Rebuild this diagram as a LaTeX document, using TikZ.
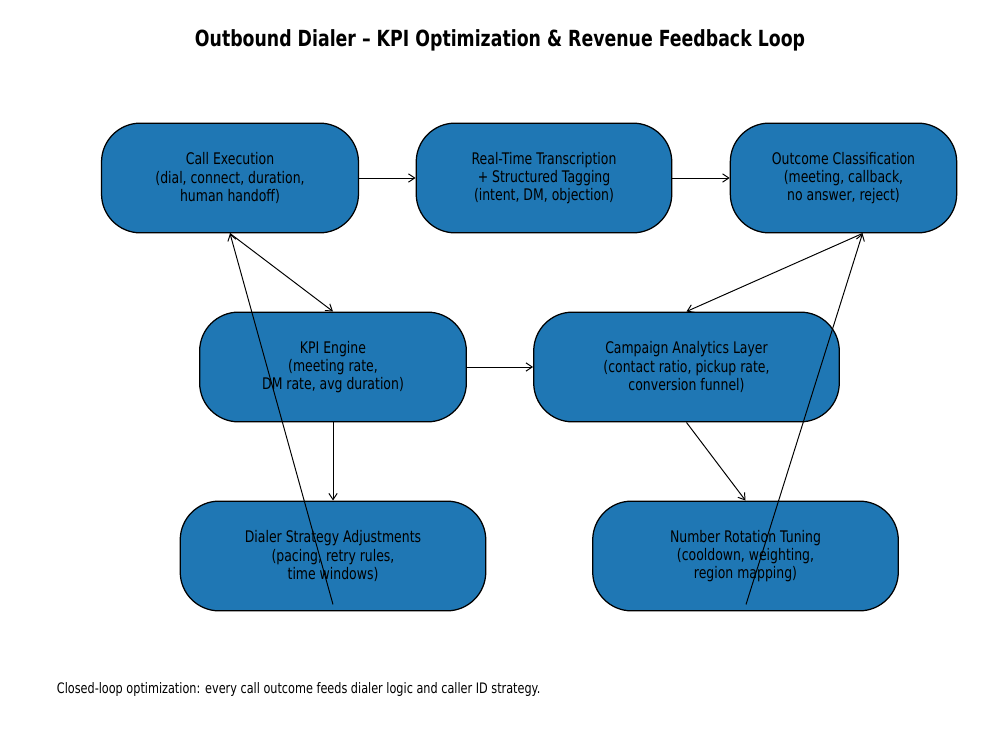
\documentclass[tikz,border=0pt]{standalone}
\usepackage{fontspec}
\setmainfont{DejaVu Sans}[FakeStretch=0.78]
\usepackage{tikz}
\usetikzlibrary{arrows.meta, positioning, calc}
\usepackage{xcolor}
\definecolor{mplblue}{HTML}{1F77B4}
\tikzset{
  stage/.style={rectangle, draw=black, fill=mplblue, line width=0.9pt,
    align=center, rounded corners=28pt, minimum height=79pt,
    font=\fontsize{11.5}{13}\selectfont, inner sep=2pt},
  arr/.style={-{Straight Barb[length=4.5pt,width=6pt]}, line width=0.7pt},
}

\begin{document}
\begin{tikzpicture}[x=0.72pt, y=0.72pt]
  \fill[white] (0,0) rectangle (1000,750);
  \useasboundingbox (0,0) rectangle (1000,750);

  \node[font=\fontsize{16}{18}\bfseries\selectfont] (title) at (500,710)
       {Outbound Dialer -- KPI Optimization \& Revenue Feedback Loop};

  % top row
  \node[stage, minimum width=185pt] (ce) at (230,572)
       {Call Execution\\(dial, connect, duration,\\human handoff)};
  \node[stage, minimum width=184pt] (tag) at (544,572)
       {Real-Time Transcription\\+ Structured Tagging\\(intent, DM, objection)};
  \node[stage, minimum width=163pt] (oc) at (843.5,572)
       {Outcome Classification\\(meeting, callback,\\no answer, reject)};

  % middle row
  \node[stage, minimum width=192pt] (kpi) at (333,383)
       {KPI Engine\\(meeting rate,\\DM rate, avg duration)};
  \node[stage, minimum width=220pt] (cal) at (686.5,383)
       {Campaign Analytics Layer\\(contact ratio, pickup rate,\\conversion funnel)};

  % bottom row
  \node[stage, minimum width=220pt] (dsa) at (333,194)
       {Dialer Strategy Adjustments\\(pacing, retry rules,\\time windows)};
  \node[stage, minimum width=220pt] (nrt) at (745.5,194)
       {Number Rotation Tuning\\(cooldown, weighting,\\region mapping)};

  \coordinate (ocport) at ($(oc.south)+(19,0)$);
  \coordinate (dsafb) at ($(dsa.south)+(0,7)$);
  \coordinate (nrtfb) at ($(nrt.south)+(0.5,7)$);

  \draw[arr] (ce)  -- (tag);
  \draw[arr] (tag) -- (oc);
  \draw[arr] (ce.south) -- (kpi.north);
  \draw[arr] (ocport)   -- (cal.north);
  \draw[arr] (kpi) -- (cal);
  \draw[arr] (kpi.south) -- (dsa.north);
  \draw[arr] (cal.south) -- (nrt.north);

  % feedback
  \draw[arr] (dsafb) -- (ce.south);
  \draw[arr] (nrtfb) -- (ocport);

  \node[anchor=west, font=\fontsize{10.4}{12}\selectfont] (note) at (52,60)
       {Closed-loop optimization: every call outcome feeds dialer logic and caller ID strategy.};
\end{tikzpicture}
\end{document}
